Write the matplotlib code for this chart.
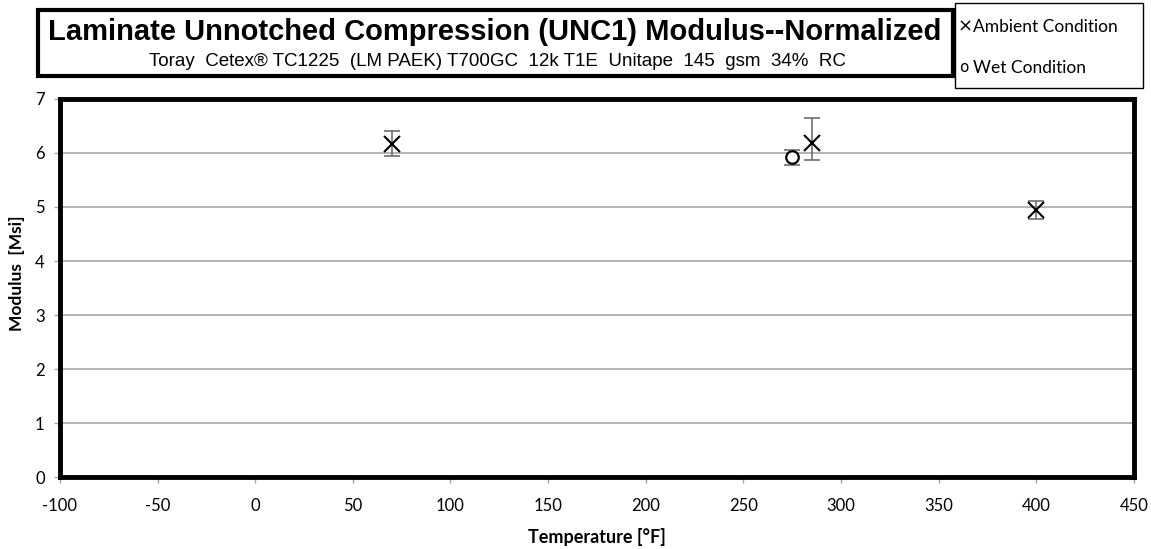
import matplotlib
matplotlib.use("Agg")
import matplotlib.pyplot as plt
from matplotlib.patches import Rectangle

plt.rcParams['axes.unicode_minus'] = False
title_font = "Liberation Sans"
body = "Lato"

amb_temp = [70, 285, 400]
amb_mod = [6.16, 6.18, 4.94]
amb_lo = [0.21, 0.31, 0.16]
amb_hi = [0.24, 0.46, 0.17]

wet_temp = [275]
wet_mod = [5.93]
wet_lo = [0.15]
wet_hi = [0.13]

xticks = list(range(-100, 451, 50))
yticks = list(range(0, 8))

fig = plt.figure(figsize=(11.51, 5.49), dpi=100)
ax = fig.add_axes([0.0521, 0.1311, 0.9329, 0.6886])

ax.errorbar(amb_temp, amb_mod, yerr=[amb_lo, amb_hi], fmt='none', ecolor='#6f6f6f',
            elinewidth=1.2, capsize=6, capthick=1.2, zorder=3)
ax.errorbar(wet_temp, wet_mod, yerr=[wet_lo, wet_hi], fmt='none', ecolor='#6f6f6f',
            elinewidth=1.2, capsize=6, capthick=1.2, zorder=3)
ax.plot(amb_temp, amb_mod, linestyle='none', marker='x', markersize=12,
        markeredgewidth=1.5, color='black', zorder=4)
ax.plot(wet_temp, wet_mod, linestyle='none', marker='o', markersize=9,
        markeredgewidth=1.6, markerfacecolor='white', markeredgecolor='black', zorder=4)

ax.set_xlim(-100, 450)
ax.set_ylim(0, 7)
ax.set_xticks(xticks)
ax.set_yticks(yticks)
ax.yaxis.grid(True, color='#a6a6a6', linewidth=1.2)
ax.set_axisbelow(True)
for s in ax.spines.values():
    s.set_linewidth(3.5)
    s.set_color('black')
ax.tick_params(axis='both', labelsize=12, length=4, width=1, color='#a6a6a6', pad=7)
ax.tick_params(axis='x', pad=11)
for lab in ax.get_xticklabels() + ax.get_yticklabels():
    lab.set_fontfamily(body)
ax.set_xlabel('Temperature [°F]', fontsize=13, fontweight='bold', family=body, labelpad=10)
ax.set_ylabel('Modulus  [Msi]', fontsize=12.5, fontweight='bold', family=body)
ax.yaxis.set_label_coords(-0.033, 0.54)

# title box
fig.patches.append(Rectangle((38/1151, 1-76/549), 915/1151, 66/549, transform=fig.transFigure,
                             fill=False, edgecolor='black', linewidth=3))
fig.text(495/1151, 1-32/549, 'Laminate Unnotched Compression (UNC1) Modulus--Normalized',
         ha='center', va='center', fontsize=21, fontweight='bold', family=title_font)
fig.text(497/1151, 1-62/549, 'Toray  Cetex® TC1225  (LM PAEK) T700GC  12k T1E  Unitape  145  gsm  34%  RC',
         ha='center', va='center', fontsize=13.5, family=title_font)

# legend box
fig.patches.append(Rectangle((955/1151, 1-88/549), 188/1151, 85/549, transform=fig.transFigure,
                             fill=False, edgecolor='black', linewidth=1))
fig.text(958/1151, 1-27/549, '×', ha='left', va='center', fontsize=13, family='DejaVu Sans')
fig.text(973/1151, 1-27/549, 'Ambient Condition', ha='left', va='center', fontsize=12.5, family=body)
fig.text(959/1151, 1-68/549, 'o', ha='left', va='center', fontsize=11, family='DejaVu Sans')
fig.text(973/1151, 1-68/549, 'Wet Condition', ha='left', va='center', fontsize=12.5, family=body)

fig.savefig('out.png', dpi=100)
